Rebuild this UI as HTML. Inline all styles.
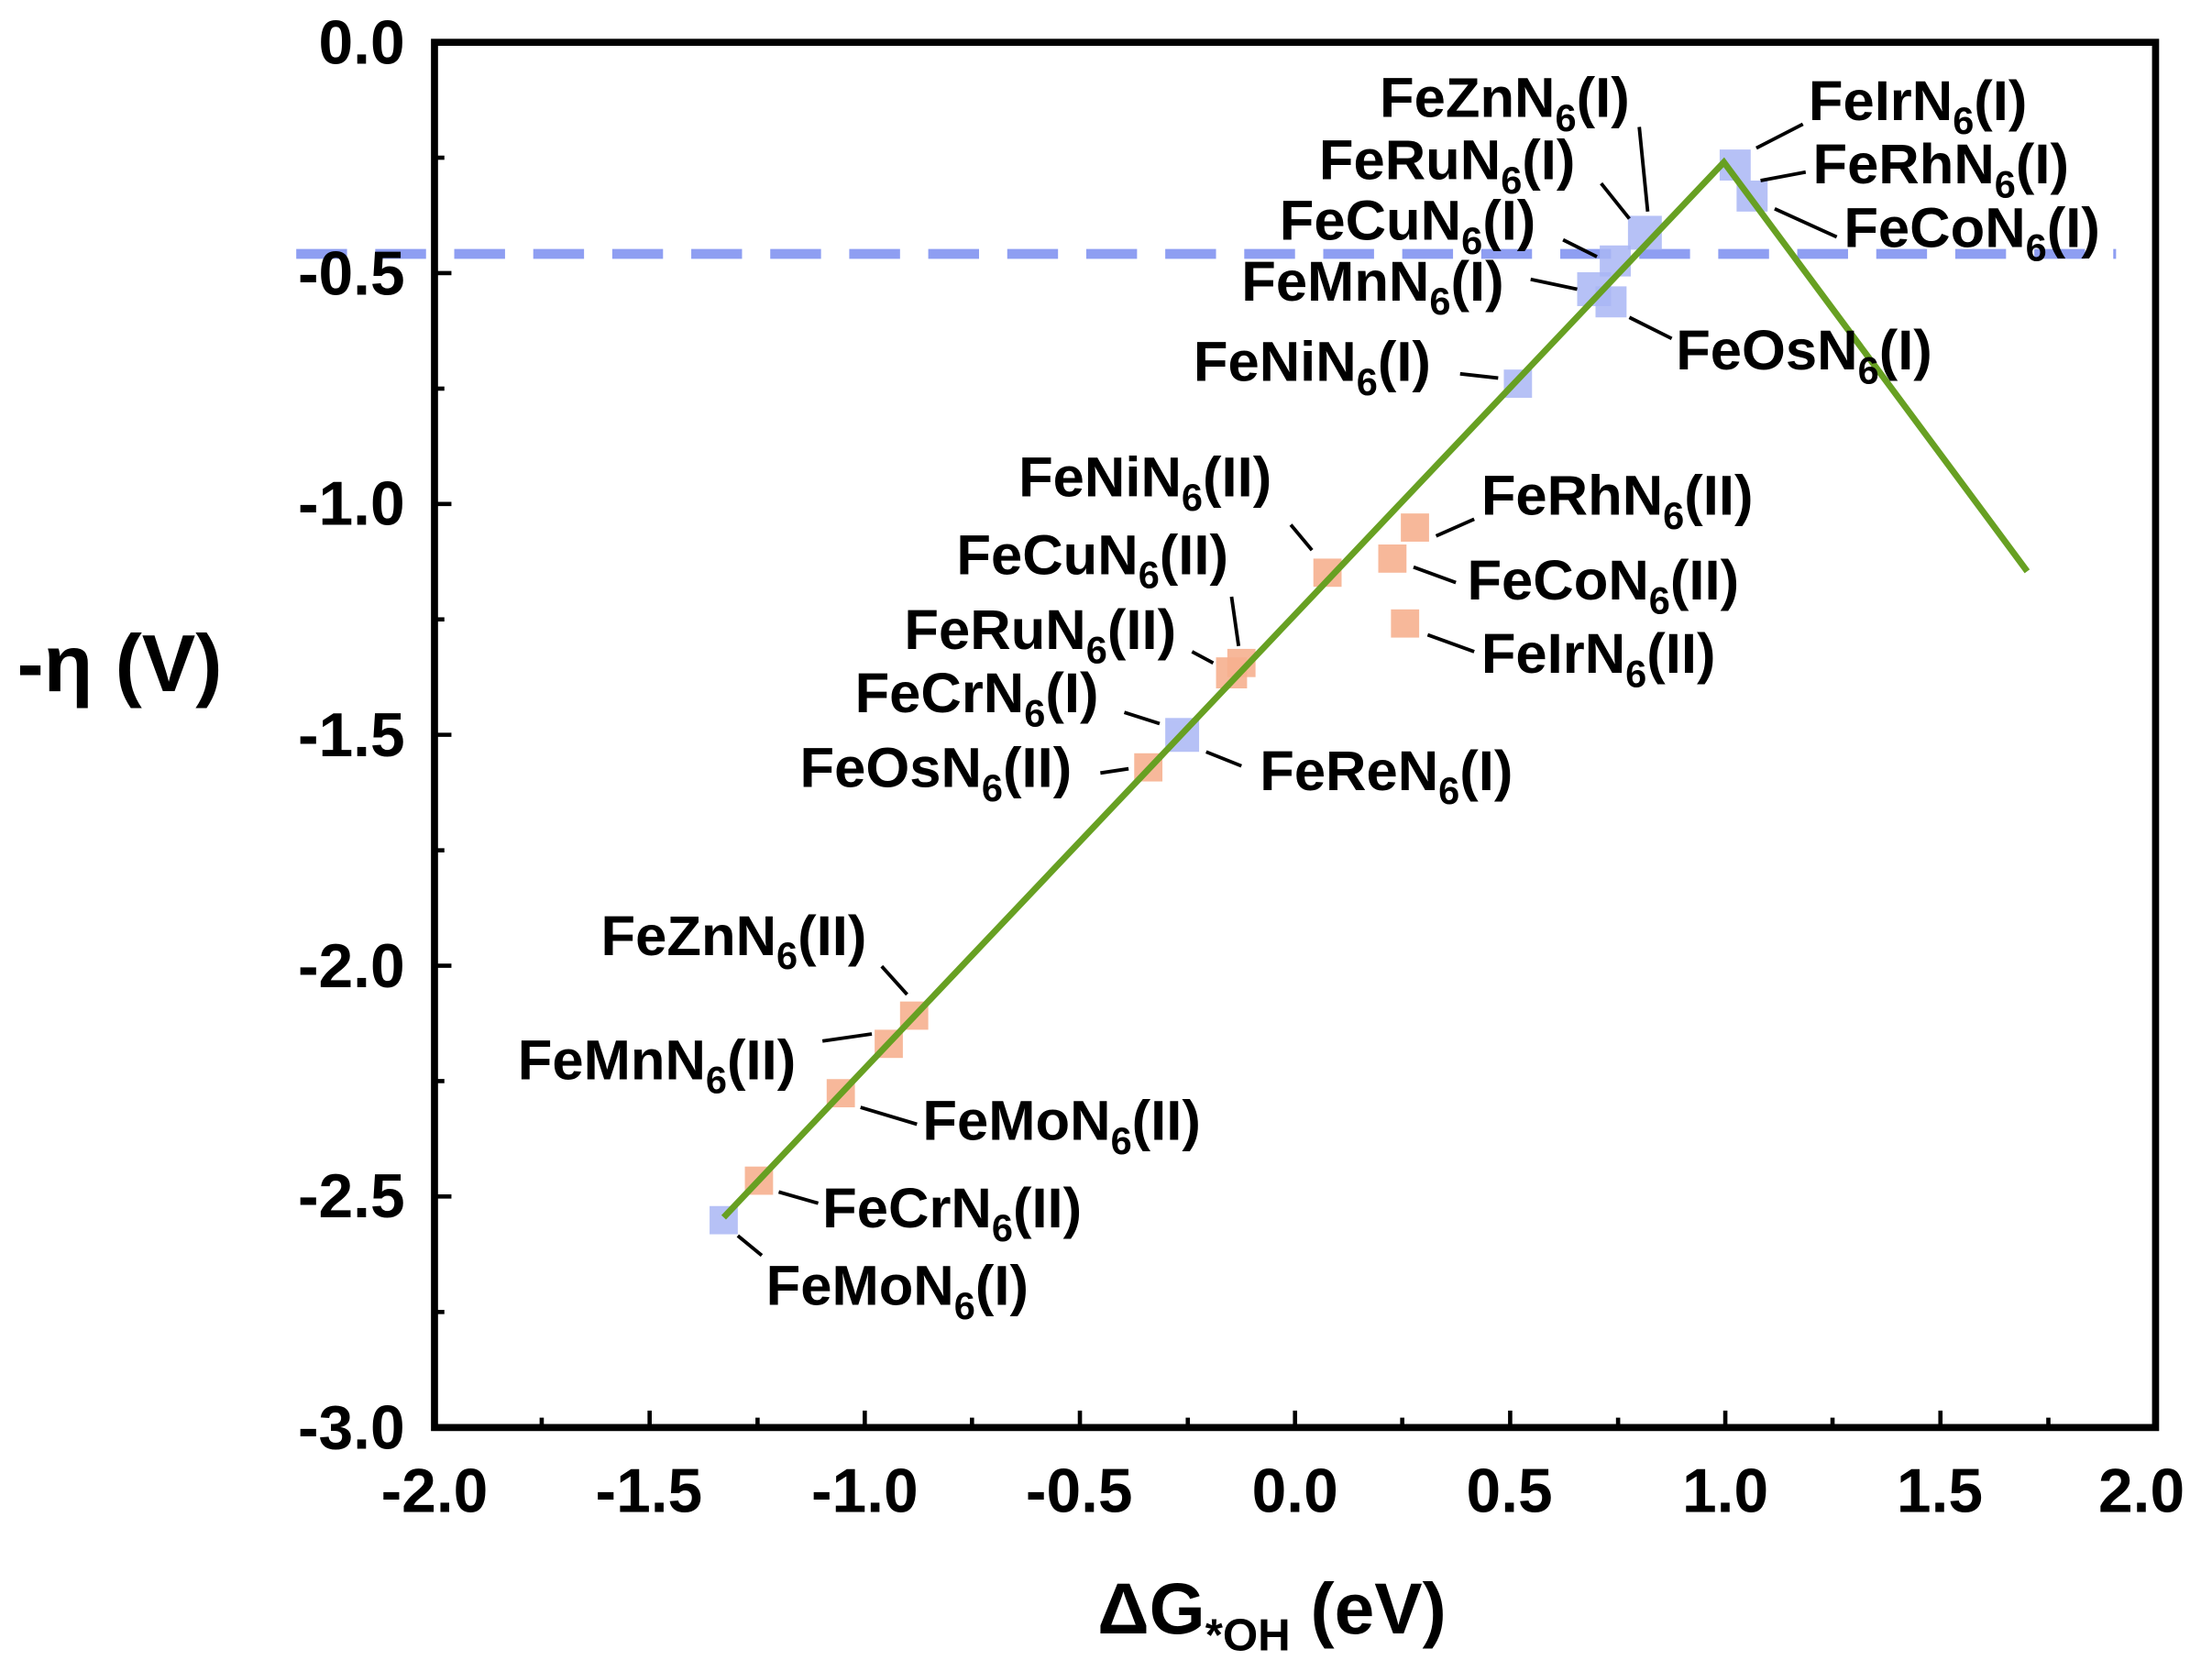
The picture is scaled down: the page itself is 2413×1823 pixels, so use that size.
<!DOCTYPE html>
<html><head><meta charset="utf-8"><style>html,body{margin:0;padding:0;background:#fff}svg{display:block}</style></head>
<body>
<svg width="2413" height="1823" viewBox="0 0 1568 1184.6" preserveAspectRatio="none" xmlns="http://www.w3.org/2000/svg" font-family="Liberation Sans, Arial, sans-serif" font-weight="bold">
<rect width="1568" height="1185" fill="#fff"/>
<line x1="210" y1="180" x2="1500" y2="180" stroke="#8e9ef2" stroke-width="7" stroke-dasharray="36,20"/>
<g fill="#a9b6f4" fill-opacity="0.85">
<rect x="503" y="855" width="20" height="20"/>
<rect x="826" y="509" width="24" height="24"/>
<rect x="1066" y="262" width="20" height="20"/>
<rect x="1118" y="193" width="24" height="24"/>
<rect x="1131" y="203" width="22" height="22"/>
<rect x="1134" y="174" width="22" height="22"/>
<rect x="1154" y="153" width="24" height="24"/>
<rect x="1219" y="106" width="22" height="22"/>
<rect x="1231" y="128" width="22" height="22"/>
</g>
<g fill="#f6b08f" fill-opacity="0.9">
<rect x="528" y="827" width="20" height="20"/>
<rect x="586" y="765" width="20" height="20"/>
<rect x="620" y="730" width="20" height="20"/>
<rect x="638" y="710" width="20" height="20"/>
<rect x="804" y="534" width="20" height="20"/>
<rect x="862" y="466" width="22" height="22"/>
<rect x="870" y="460" width="20" height="20"/>
<rect x="931" y="396" width="20" height="20"/>
<rect x="977" y="386" width="20" height="20"/>
<rect x="993" y="364" width="20" height="20"/>
<rect x="986" y="432" width="20" height="20"/>
</g>
<polyline points="513,863 1222,115 1437,405" fill="none" stroke="#67a022" stroke-width="4.5"/>
<rect x="308" y="30" width="1220" height="982" fill="none" stroke="#000" stroke-width="5"/>
<g stroke="#000" stroke-width="3">
<line x1="308" y1="193.6" x2="320" y2="193.6"/><line x1="308" y1="357.3" x2="320" y2="357.3"/><line x1="308" y1="520.9" x2="320" y2="520.9"/><line x1="308" y1="684.6" x2="320" y2="684.6"/><line x1="308" y1="848.2" x2="320" y2="848.2"/>
<line x1="308" y1="111.8" x2="315" y2="111.8"/><line x1="308" y1="275.5" x2="315" y2="275.5"/><line x1="308" y1="439.1" x2="315" y2="439.1"/><line x1="308" y1="602.8" x2="315" y2="602.8"/><line x1="308" y1="766.4" x2="315" y2="766.4"/><line x1="308" y1="930.1" x2="315" y2="930.1"/>
<line x1="460.5" y1="1012" x2="460.5" y2="1000"/><line x1="613" y1="1012" x2="613" y2="1000"/><line x1="765.5" y1="1012" x2="765.5" y2="1000"/><line x1="918" y1="1012" x2="918" y2="1000"/><line x1="1070.5" y1="1012" x2="1070.5" y2="1000"/><line x1="1223" y1="1012" x2="1223" y2="1000"/><line x1="1375.5" y1="1012" x2="1375.5" y2="1000"/>
<line x1="384" y1="1012" x2="384" y2="1005"/><line x1="537" y1="1012" x2="537" y2="1005"/><line x1="689" y1="1012" x2="689" y2="1005"/><line x1="842" y1="1012" x2="842" y2="1005"/><line x1="994" y1="1012" x2="994" y2="1005"/><line x1="1147" y1="1012" x2="1147" y2="1005"/><line x1="1299" y1="1012" x2="1299" y2="1005"/><line x1="1452" y1="1012" x2="1452" y2="1005"/>
</g>
<g font-size="44" text-anchor="end">
<text x="287" y="45">0.0</text><text x="287" y="209">-0.5</text><text x="287" y="372">-1.0</text><text x="287" y="536">-1.5</text><text x="287" y="700">-2.0</text><text x="287" y="863">-2.5</text><text x="287" y="1027">-3.0</text>
</g>
<g font-size="44" text-anchor="middle">
<text x="308" y="1072">-2.0</text><text x="460" y="1072">-1.5</text><text x="613" y="1072">-1.0</text><text x="765" y="1072">-0.5</text><text x="918" y="1072">0.0</text><text x="1070" y="1072">0.5</text><text x="1223" y="1072">1.0</text><text x="1375" y="1072">1.5</text><text x="1518" y="1072">2.0</text>
</g>
<text x="12" y="490" font-size="57">-η (V)</text>
<text x="778" y="1158" font-size="51">ΔG<tspan font-size="32" dy="12">*OH</tspan><tspan dy="-12"> (eV)</tspan></text>
<g stroke="#000" stroke-width="2.5">
<line x1="1162" y1="90" x2="1168" y2="150"/><line x1="1135" y1="130" x2="1155" y2="155"/><line x1="1108" y1="170" x2="1132" y2="182"/><line x1="1085" y1="198" x2="1118" y2="205"/><line x1="1155" y1="225" x2="1185" y2="240"/><line x1="1035" y1="265" x2="1062" y2="268"/>
<line x1="1245" y1="105" x2="1278" y2="88"/><line x1="1248" y1="128" x2="1280" y2="122"/><line x1="1258" y1="148" x2="1302" y2="168"/>
<line x1="915" y1="372" x2="930" y2="390"/><line x1="1018" y1="380" x2="1045" y2="368"/><line x1="1002" y1="402" x2="1032" y2="413"/><line x1="873" y1="423" x2="878" y2="458"/><line x1="1012" y1="450" x2="1045" y2="462"/><line x1="845" y1="462" x2="860" y2="470"/><line x1="797" y1="505" x2="822" y2="513"/><line x1="855" y1="533" x2="880" y2="543"/><line x1="780" y1="548" x2="800" y2="545"/>
<line x1="625" y1="685" x2="643" y2="705"/><line x1="583" y1="738" x2="618" y2="733"/><line x1="610" y1="785" x2="650" y2="797"/><line x1="552" y1="845" x2="580" y2="853"/><line x1="523" y1="876" x2="540" y2="890"/>
</g>
<g font-size="40">
<text x="978" y="83">FeZnN<tspan font-size="27" dy="10">6</tspan><tspan dy="-10">(I)</tspan></text>
<text x="935" y="127">FeRuN<tspan font-size="27" dy="10">6</tspan><tspan dy="-10">(I)</tspan></text>
<text x="907" y="170">FeCuN<tspan font-size="27" dy="10">6</tspan><tspan dy="-10">(I)</tspan></text>
<text x="880" y="213">FeMnN<tspan font-size="27" dy="10">6</tspan><tspan dy="-10">(I)</tspan></text>
<text x="1188" y="262">FeOsN<tspan font-size="27" dy="10">6</tspan><tspan dy="-10">(I)</tspan></text>
<text x="846" y="270">FeNiN<tspan font-size="27" dy="10">6</tspan><tspan dy="-10">(I)</tspan></text>
<text x="1282" y="85">FeIrN<tspan font-size="27" dy="10">6</tspan><tspan dy="-10">(I)</tspan></text>
<text x="1285" y="130">FeRhN<tspan font-size="27" dy="10">6</tspan><tspan dy="-10">(I)</tspan></text>
<text x="1307" y="175">FeCoN<tspan font-size="27" dy="10">6</tspan><tspan dy="-10">(I)</tspan></text>
<text x="722" y="352">FeNiN<tspan font-size="27" dy="10">6</tspan><tspan dy="-10">(II)</tspan></text>
<text x="1050" y="365">FeRhN<tspan font-size="27" dy="10">6</tspan><tspan dy="-10">(II)</tspan></text>
<text x="1040" y="425">FeCoN<tspan font-size="27" dy="10">6</tspan><tspan dy="-10">(II)</tspan></text>
<text x="678" y="407">FeCuN<tspan font-size="27" dy="10">6</tspan><tspan dy="-10">(II)</tspan></text>
<text x="1050" y="477">FeIrN<tspan font-size="27" dy="10">6</tspan><tspan dy="-10">(II)</tspan></text>
<text x="641" y="460">FeRuN<tspan font-size="27" dy="10">6</tspan><tspan dy="-10">(II)</tspan></text>
<text x="606" y="505">FeCrN<tspan font-size="27" dy="10">6</tspan><tspan dy="-10">(I)</tspan></text>
<text x="893" y="560">FeReN<tspan font-size="27" dy="10">6</tspan><tspan dy="-10">(I)</tspan></text>
<text x="567" y="558">FeOsN<tspan font-size="27" dy="10">6</tspan><tspan dy="-10">(II)</tspan></text>
<text x="426" y="677">FeZnN<tspan font-size="27" dy="10">6</tspan><tspan dy="-10">(II)</tspan></text>
<text x="367" y="765">FeMnN<tspan font-size="27" dy="10">6</tspan><tspan dy="-10">(II)</tspan></text>
<text x="654" y="808">FeMoN<tspan font-size="27" dy="10">6</tspan><tspan dy="-10">(II)</tspan></text>
<text x="583" y="870">FeCrN<tspan font-size="27" dy="10">6</tspan><tspan dy="-10">(II)</tspan></text>
<text x="543" y="925">FeMoN<tspan font-size="27" dy="10">6</tspan><tspan dy="-10">(I)</tspan></text>
</g>
</svg>
</body></html>
